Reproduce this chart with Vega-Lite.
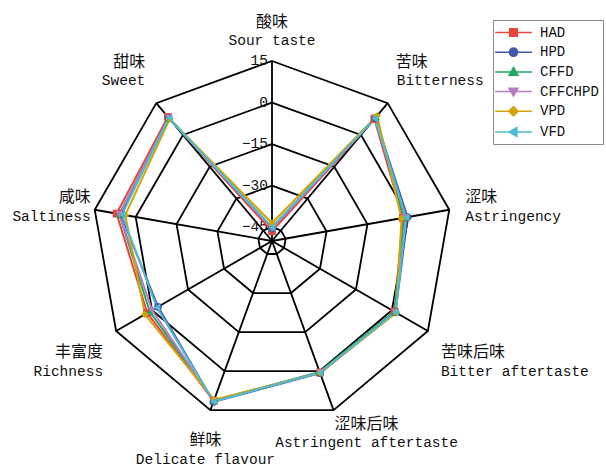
{
  "$schema": "https://vega.github.io/schema/vega-lite/v6.json",
  "width": 606,
  "height": 469,
  "padding": 0,
  "autosize": {"type": "none"},
  "background": "white",
  "config": {"view": {"stroke": null}},
  "datasets": {
    "scores": [
      {"sample": "HAD", "k": 0, "attr": "Sour taste", "value": -46.5},
      {"sample": "HAD", "k": 1, "attr": "Bitterness", "value": 7.5},
      {"sample": "HAD", "k": 2, "attr": "Astringency", "value": -2},
      {"sample": "HAD", "k": 3, "attr": "Bitter aftertaste", "value": 1},
      {"sample": "HAD", "k": 4, "attr": "Astringent aftertaste", "value": 0.5},
      {"sample": "HAD", "k": 5, "attr": "Delicate flavour", "value": 11.5},
      {"sample": "HAD", "k": 6, "attr": "Richness", "value": 2},
      {"sample": "HAD", "k": 7, "attr": "Saltiness", "value": 7},
      {"sample": "HAD", "k": 8, "attr": "Sweet", "value": 8.5},
      {"sample": "HPD", "k": 0, "attr": "Sour taste", "value": -45.5},
      {"sample": "HPD", "k": 1, "attr": "Bitterness", "value": 8},
      {"sample": "HPD", "k": 2, "attr": "Astringency", "value": -0.3},
      {"sample": "HPD", "k": 3, "attr": "Bitter aftertaste", "value": 1.5},
      {"sample": "HPD", "k": 4, "attr": "Astringent aftertaste", "value": 0.8},
      {"sample": "HPD", "k": 5, "attr": "Delicate flavour", "value": 11.8},
      {"sample": "HPD", "k": 6, "attr": "Richness", "value": -2.5},
      {"sample": "HPD", "k": 7, "attr": "Saltiness", "value": 5.5},
      {"sample": "HPD", "k": 8, "attr": "Sweet", "value": 8},
      {"sample": "CFFD", "k": 0, "attr": "Sour taste", "value": -45},
      {"sample": "CFFD", "k": 1, "attr": "Bitterness", "value": 8.5},
      {"sample": "CFFD", "k": 2, "attr": "Astringency", "value": -1.5},
      {"sample": "CFFD", "k": 3, "attr": "Bitter aftertaste", "value": 1},
      {"sample": "CFFD", "k": 4, "attr": "Astringent aftertaste", "value": 0.3},
      {"sample": "CFFD", "k": 5, "attr": "Delicate flavour", "value": 11.3},
      {"sample": "CFFD", "k": 6, "attr": "Richness", "value": 1},
      {"sample": "CFFD", "k": 7, "attr": "Saltiness", "value": 6},
      {"sample": "CFFD", "k": 8, "attr": "Sweet", "value": 8},
      {"sample": "CFFCHPD", "k": 0, "attr": "Sour taste", "value": -45.5},
      {"sample": "CFFCHPD", "k": 1, "attr": "Bitterness", "value": 8},
      {"sample": "CFFCHPD", "k": 2, "attr": "Astringency", "value": -1},
      {"sample": "CFFCHPD", "k": 3, "attr": "Bitter aftertaste", "value": 1.5},
      {"sample": "CFFCHPD", "k": 4, "attr": "Astringent aftertaste", "value": 0.5},
      {"sample": "CFFCHPD", "k": 5, "attr": "Delicate flavour", "value": 11.5},
      {"sample": "CFFCHPD", "k": 6, "attr": "Richness", "value": 0},
      {"sample": "CFFCHPD", "k": 7, "attr": "Saltiness", "value": 6},
      {"sample": "CFFCHPD", "k": 8, "attr": "Sweet", "value": 8},
      {"sample": "VPD", "k": 0, "attr": "Sour taste", "value": -43.5},
      {"sample": "VPD", "k": 1, "attr": "Bitterness", "value": 9},
      {"sample": "VPD", "k": 2, "attr": "Astringency", "value": -2.5},
      {"sample": "VPD", "k": 3, "attr": "Bitter aftertaste", "value": 1.8},
      {"sample": "VPD", "k": 4, "attr": "Astringent aftertaste", "value": 0.7},
      {"sample": "VPD", "k": 5, "attr": "Delicate flavour", "value": 11},
      {"sample": "VPD", "k": 6, "attr": "Richness", "value": 3},
      {"sample": "VPD", "k": 7, "attr": "Saltiness", "value": 3.8},
      {"sample": "VPD", "k": 8, "attr": "Sweet", "value": 7.5},
      {"sample": "VFD", "k": 0, "attr": "Sour taste", "value": -45},
      {"sample": "VFD", "k": 1, "attr": "Bitterness", "value": 7.7},
      {"sample": "VFD", "k": 2, "attr": "Astringency", "value": -0.8},
      {"sample": "VFD", "k": 3, "attr": "Bitter aftertaste", "value": 1.5},
      {"sample": "VFD", "k": 4, "attr": "Astringent aftertaste", "value": 0.6},
      {"sample": "VFD", "k": 5, "attr": "Delicate flavour", "value": 11.7},
      {"sample": "VFD", "k": 6, "attr": "Richness", "value": -2},
      {"sample": "VFD", "k": 7, "attr": "Saltiness", "value": 5},
      {"sample": "VFD", "k": 8, "attr": "Sweet", "value": 8}
    ],
    "rings": [
      {"level": 15, "k": [0, 1, 2, 3, 4, 5, 6, 7, 8]},
      {"level": 0, "k": [0, 1, 2, 3, 4, 5, 6, 7, 8]},
      {"level": -15, "k": [0, 1, 2, 3, 4, 5, 6, 7, 8]},
      {"level": -30, "k": [0, 1, 2, 3, 4, 5, 6, 7, 8]},
      {"level": -45, "k": [0, 1, 2, 3, 4, 5, 6, 7, 8]}
    ],
    "attrs": [
      {"k": 0, "zh": "酸味", "en": "Sour taste"},
      {"k": 1, "zh": "苦味", "en": "Bitterness"},
      {"k": 2, "zh": "涩味", "en": "Astringency"},
      {"k": 3, "zh": "苦味后味", "en": "Bitter aftertaste"},
      {"k": 4, "zh": "涩味后味", "en": "Astringent aftertaste"},
      {"k": 5, "zh": "鲜味", "en": "Delicate flavour"},
      {"k": 6, "zh": "丰富度", "en": "Richness"},
      {"k": 7, "zh": "咸味", "en": "Saltiness"},
      {"k": 8, "zh": "甜味", "en": "Sweet"}
    ]
  },
  "encoding": {
    "x": {"field": "px", "type": "quantitative", "scale": {"domain": [-1.51111, 1.85556], "nice": false, "zero": false}, "axis": null},
    "y": {"field": "py", "type": "quantitative", "scale": {"domain": [-1.26667, 1.33889], "nice": false, "zero": false}, "axis": null}
  },
  "layer": [
    {
      "data": {"name": "rings"},
      "transform": [
        {"flatten": ["k"]},
        {"calculate": "(datum.level + 50) / 65", "as": "r"},
        {"calculate": "datum.r * sin(datum.k * 2 * PI / 9)", "as": "px"},
        {"calculate": "datum.r * cos(datum.k * 2 * PI / 9)", "as": "py"}
      ],
      "mark": {"type": "line", "interpolate": "linear-closed", "stroke": "#000000", "strokeWidth": 1.8},
      "encoding": {
        "detail": {"field": "level", "type": "nominal"},
        "order": {"field": "k", "type": "quantitative"}
      }
    },
    {
      "data": {"name": "attrs"},
      "transform": [
        {"calculate": "0", "as": "px"},
        {"calculate": "0", "as": "py"},
        {"calculate": "sin(datum.k * 2 * PI / 9)", "as": "ex"},
        {"calculate": "cos(datum.k * 2 * PI / 9)", "as": "ey"}
      ],
      "mark": {"type": "rule", "stroke": "#000000", "strokeWidth": 1.8},
      "encoding": {
        "x2": {"field": "ex"},
        "y2": {"field": "ey"}
      }
    },
    {
      "data": {"name": "rings"},
      "transform": [
        {"calculate": "0", "as": "px"},
        {"calculate": "(datum.level + 50) / 65", "as": "py"}
      ],
      "mark": {"type": "text", "align": "right", "baseline": "middle", "dx": -4, "font": "Liberation Mono", "fontSize": 14.5, "fill": "#111111"},
      "encoding": {
        "text": {"field": "level", "type": "quantitative", "format": "d"}
      }
    },
    {
      "data": {"values": [{"level": -50}]},
      "transform": [
        {"calculate": "0", "as": "px"},
        {"calculate": "(datum.level + 50) / 65", "as": "py"}
      ],
      "mark": {"type": "point", "filled": true, "color": "#000000", "size": 22, "opacity": 1}
    },
    {
      "data": {"name": "scores"},
      "transform": [
        {"calculate": "(datum.value + 50) / 65", "as": "r"},
        {"calculate": "datum.r * sin(datum.k * 2 * PI / 9)", "as": "px"},
        {"calculate": "datum.r * cos(datum.k * 2 * PI / 9)", "as": "py"}
      ],
      "mark": {"type": "line", "interpolate": "linear-closed", "strokeWidth": 2},
      "encoding": {
        "color": {
          "field": "sample",
          "type": "nominal",
          "scale": {
            "domain": ["HAD", "HPD", "CFFD", "CFFCHPD", "VPD", "VFD"],
            "range": ["#e8453c", "#4358aa", "#22a862", "#b57cc4", "#d2a407", "#4fbccf"]
          },
          "legend": {
            "orient": "none",
            "legendX": 493,
            "legendY": 20,
            "title": null,
            "padding": 4,
            "strokeColor": "#888888",
            "fillColor": "#ffffff",
            "symbolSize": 225,
            "symbolStrokeWidth": 1.5,
            "symbolOffset": 8,
            "labelOffset": 18,
            "labelFont": "Liberation Mono",
            "labelFontSize": 14,
            "labelColor": "#111111",
            "rowPadding": 3.7,
            "encode": {
              "symbols": {
                "update": {
                  "shape": {"signal": "datum.value === 'HAD' ? 'M-2.45,0H2.45M-0.5,-0.5H0.5V0.5H-0.5Z' : datum.value === 'HPD' ? 'M-2.45,0H2.45M-0.55,0A0.55,0.55,0,1,1,0.55,0A0.55,0.55,0,1,1,-0.55,0Z' : datum.value === 'CFFD' ? 'M-2.45,0H2.45M0,-0.6L0.6,0.45H-0.6Z' : datum.value === 'CFFCHPD' ? 'M-2.45,0H2.45M0,0.6L-0.6,-0.45H0.6Z' : datum.value === 'VPD' ? 'M-2.45,0H2.45M0,-0.62L0.62,0L0,0.62L-0.62,0Z' : 'M-2.45,0H2.45M-0.6,0L0.45,-0.6V0.6Z'"},
                  "fill": {"signal": "scale('color', datum.value)"},
                  "stroke": {"signal": "scale('color', datum.value)"},
                  "strokeWidth": {"value": 1.5},
                  "opacity": {"value": 1}
                }
              }
            }
          }
        },
        "detail": {"field": "sample", "type": "nominal"},
        "order": {"field": "k", "type": "quantitative"}
      }
    },
    {
      "data": {"name": "scores"},
      "transform": [
        {"calculate": "(datum.value + 50) / 65", "as": "r"},
        {"calculate": "datum.r * sin(datum.k * 2 * PI / 9)", "as": "px"},
        {"calculate": "datum.r * cos(datum.k * 2 * PI / 9)", "as": "py"}
      ],
      "mark": {"type": "point", "filled": true, "size": 60, "opacity": 1},
      "encoding": {
        "color": {"field": "sample", "type": "nominal"},
        "shape": {
          "field": "sample",
          "type": "nominal",
          "scale": {
            "domain": ["VFD", "VPD", "CFFCHPD", "CFFD", "HPD", "HAD"],
            "range": ["triangle-left", "diamond", "triangle-down", "triangle-up", "circle", "square"]
          },
          "legend": null
        }
      }
    },
    {
      "data": {"name": "attrs"},
      "transform": [
        {"calculate": "sin(datum.k * 2 * PI / 9)", "as": "px"},
        {"calculate": "cos(datum.k * 2 * PI / 9)", "as": "py"}
      ],
      "mark": {
        "type": "text",
        "font": "Noto Sans CJK SC",
        "fontSize": 16,
        "fill": "#111111",
        "baseline": "middle",
        "align": {"expr": "datum.k === 0 || datum.k === 4 || datum.k === 5 ? 'center' : (datum.k < 4 ? 'left' : 'right')"},
        "dx": {"expr": "[0, 8, 16, 13, 33, -5, -13, -4, -11][datum.k]"},
        "dy": {"expr": "[-39, -41, -13, 21, 14, 30, 21, -13, -41][datum.k]"}
      },
      "encoding": {"text": {"field": "zh", "type": "nominal"}}
    },
    {
      "data": {"name": "attrs"},
      "transform": [
        {"calculate": "sin(datum.k * 2 * PI / 9)", "as": "px"},
        {"calculate": "cos(datum.k * 2 * PI / 9)", "as": "py"}
      ],
      "mark": {
        "type": "text",
        "font": "Liberation Mono",
        "fontSize": 14.5,
        "fill": "#111111",
        "baseline": "middle",
        "align": {"expr": "datum.k === 0 || datum.k === 4 || datum.k === 5 ? 'center' : (datum.k < 4 ? 'left' : 'right')"},
        "dx": {"expr": "[0, 9, 16, 13, 33, -5, -13, -4, -11][datum.k]"},
        "dy": {"expr": "[-20, -22, 7, 41, 33, 50, 41, 7, -22][datum.k]"}
      },
      "encoding": {"text": {"field": "en", "type": "nominal"}}
    }
  ]
}
